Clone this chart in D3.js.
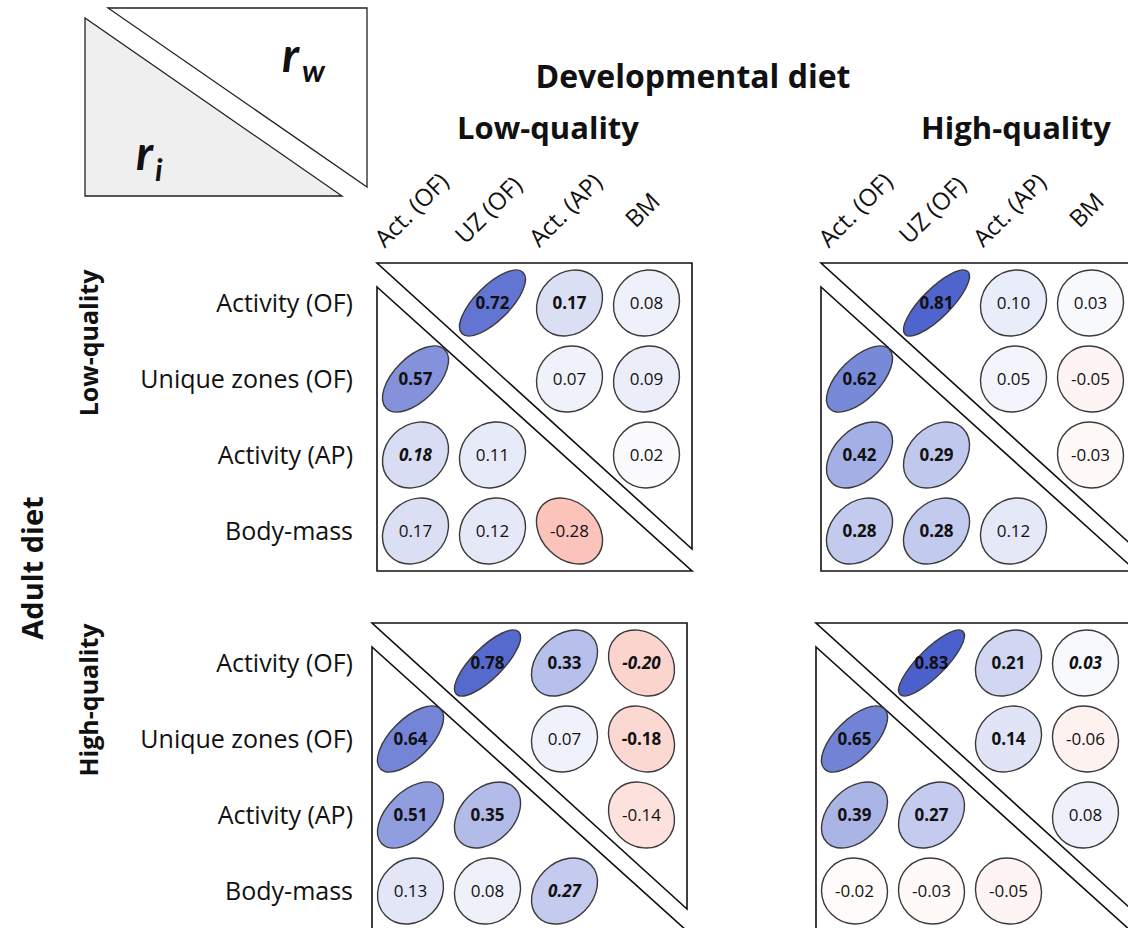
<!DOCTYPE html>
<html>
<head>
<meta charset="utf-8">
<script src="https://cdn.jsdelivr.net/npm/d3@7"></script>
<style>
  html, body { margin: 0; padding: 0; background: #fff; }
  svg { display: block; font-family: "Open Sans", Lato, sans-serif; }
</style>
</head>
<body>
<svg id="chart" width="1128" height="928"></svg>
<script>
// ---- data ----
const rowVars = ["Activity (OF)", "Unique zones (OF)", "Activity (AP)", "Body-mass"];
const colVars = ["Act. (OF)", "UZ (OF)", "Act. (AP)", "BM"];
const devDiets = ["Low-quality", "High-quality"];
const adultDiets = ["Low-quality", "High-quality"];

// upper triangle = r_w, lower triangle = r_i
const lqDevLqAdult = [[null, 0.72, 0.17, 0.08], [0.57, null, 0.07, 0.09], [0.18, 0.11, null, 0.02], [0.17, 0.12, -0.28, null]];
const hqDevLqAdult = [[null, 0.81, 0.10, 0.03], [0.62, null, 0.05, -0.05], [0.42, 0.29, null, -0.03], [0.28, 0.28, 0.12, null]];
const lqDevHqAdult = [[null, 0.78, 0.33, -0.20], [0.64, null, 0.07, -0.18], [0.51, 0.35, null, -0.14], [0.13, 0.08, 0.27, null]];
const hqDevHqAdult = [[null, 0.83, 0.21, 0.03], [0.65, null, 0.14, -0.06], [0.39, 0.27, null, 0.08], [-0.02, -0.03, -0.05, null]];

// label emphasis: b = bold, bi = bold italic
const lqDevLqAdultStyle = [["", "b", "b", ""], ["b", "", "", ""], ["bi", "", "", ""], ["", "", "", ""]];
const hqDevLqAdultStyle = [["", "b", "", ""], ["b", "", "", ""], ["b", "b", "", ""], ["b", "b", "", ""]];
const lqDevHqAdultStyle = [["", "b", "b", "bi"], ["b", "", "", "b"], ["b", "b", "", ""], ["", "", "bi", ""]];
const hqDevHqAdultStyle = [["", "b", "b", "bi"], ["b", "", "b", ""], ["b", "b", "", ""], ["", "", "", ""]];

// ---- layout ----
const panels = [
  { dev: 0, adult: 0, values: lqDevLqAdult, style: lqDevLqAdultStyle, x: 377, y: 263 },
  { dev: 1, adult: 0, values: hqDevLqAdult, style: hqDevLqAdultStyle, x: 821, y: 263 },
  { dev: 0, adult: 1, values: lqDevHqAdult, style: lqDevHqAdultStyle, x: 372, y: 623 },
  { dev: 1, adult: 1, values: hqDevHqAdult, style: hqDevHqAdultStyle, x: 816, y: 623 }
];
const PW = 315, PH = 308, GAP = 24, R = 33;

const svg = d3.select("#chart");
const pos = d3.interpolateRgb("#ffffff", "rgb(38,64,192)");
const neg = d3.interpolateRgb("#ffffff", "rgb(240,40,10)");
const color = v => v >= 0 ? pos(v) : neg(-v);

// legend
const lg = svg.append("g");
lg.append("polygon").attr("points", [[108, 8], [367, 8], [367, 187]].join(" "))
  .attr("fill", "#fff").attr("stroke", "#222").attr("stroke-width", 1.3);
lg.append("polygon").attr("points", [[85, 18], [85, 196], [342, 196]].join(" "))
  .attr("fill", "#efefef").attr("stroke", "#222").attr("stroke-width", 1.3);
const rw = lg.append("text").attr("x", 282).attr("y", 72).attr("font-family", "Lato, sans-serif")
  .attr("font-weight", 700).attr("font-style", "italic").attr("fill", "#111");
rw.append("tspan").attr("font-size", 48).text("r");
rw.append("tspan").attr("font-size", 31).attr("dy", 10).attr("dx", 3).text("w");
const ri = lg.append("text").attr("x", 136).attr("y", 170).attr("font-family", "Lato, sans-serif")
  .attr("font-weight", 700).attr("font-style", "italic").attr("fill", "#111");
ri.append("tspan").attr("font-size", 48).text("r");
ri.append("tspan").attr("font-size", 31).attr("dy", 11).attr("dx", 2).text("i");

// headings
svg.append("text").attr("x", 693).attr("y", 88).attr("text-anchor", "middle")
  .attr("font-size", 32).attr("font-weight", 700).attr("fill", "#111").text("Developmental diet");
const devX = d3.scaleOrdinal().domain(devDiets).range([548, 1016]);
svg.selectAll(".devlab").data(devDiets).join("text")
  .attr("x", d => devX(d)).attr("y", 139).attr("text-anchor", "middle")
  .attr("font-size", 31).attr("font-weight", 700).attr("fill", "#111").text(d => d);

svg.append("text").attr("transform", "translate(43,568) rotate(-90)").attr("text-anchor", "middle")
  .attr("font-size", 29).attr("font-weight", 700).attr("fill", "#111").text("Adult diet");
const adultY = d3.scaleOrdinal().domain(adultDiets).range([343, 700]);
svg.selectAll(".adlab").data(adultDiets).join("text")
  .attr("transform", d => `translate(98,${adultY(d)}) rotate(-90)`).attr("text-anchor", "middle")
  .attr("font-size", 25).attr("font-weight", 700).attr("fill", "#111").text(d => d);

panels.forEach(p => {
  const g = svg.append("g");
  const xb = d3.scaleBand().domain(colVars).range([p.x, p.x + 308]);
  const yb = d3.scaleBand().domain(rowVars).range([p.y + 2, p.y + 306]);
  const cx = i => xb(colVars[i]) + xb.bandwidth() / 2;
  const cy = i => yb(rowVars[i]) + yb.bandwidth() / 2;

  // frames
  g.append("polygon").attr("points", [[p.x, p.y], [p.x + PW, p.y], [p.x + PW, p.y + PH - GAP + 2]].join(" "))
    .attr("fill", "none").attr("stroke", "#111").attr("stroke-width", 1.6);
  g.append("polygon").attr("points", [[p.x, p.y + GAP], [p.x, p.y + PH], [p.x + PW, p.y + PH]].join(" "))
    .attr("fill", "none").attr("stroke", "#111").attr("stroke-width", 1.6);

  // cells
  const cells = [];
  p.values.forEach((row, i) => row.forEach((v, j) => {
    if (v !== null) cells.push({ i, j, v, s: p.style[i][j] });
  }));
  const cg = g.selectAll(".cell").data(cells).join("g")
    .attr("transform", d => `translate(${cx(d.j)},${cy(d.i)})`);
  cg.append("ellipse")
    .attr("rx", d => R * Math.sqrt(1 + d.v))
    .attr("ry", d => R * Math.sqrt(1 - d.v))
    .attr("transform", "rotate(-45)")
    .attr("fill", d => color(d.v))
    .attr("stroke", "#3a3a3a").attr("stroke-width", 1.4);
  cg.append("text")
    .attr("text-anchor", "middle").attr("dy", "0.35em")
    .attr("font-size", 17)
    .attr("font-weight", d => d.s.includes("b") ? 700 : 400)
    .attr("font-style", d => d.s.includes("i") ? "italic" : "normal")
    .attr("fill", "#111")
    .text(d => d.v.toFixed(2));

  // row labels (left panels only)
  if (p.dev === 0) {
    g.selectAll(".rl").data(rowVars).join("text")
      .attr("x", 353).attr("y", d => yb(d) + yb.bandwidth() / 2).attr("dy", "0.35em")
      .attr("text-anchor", "end").attr("font-size", 25).attr("fill", "#111").text(d => d);
  }
  // column labels (top panels only)
  if (p.adult === 0) {
    g.selectAll(".clab").data(colVars).join("text")
      .attr("transform", d => `translate(${xb(d) + xb.bandwidth() / 2 + 2},216) rotate(-45)`)
      .attr("text-anchor", "middle")
      .attr("font-size", 24).attr("fill", "#111").text(d => d);
  }
});
</script>
</body>
</html>
